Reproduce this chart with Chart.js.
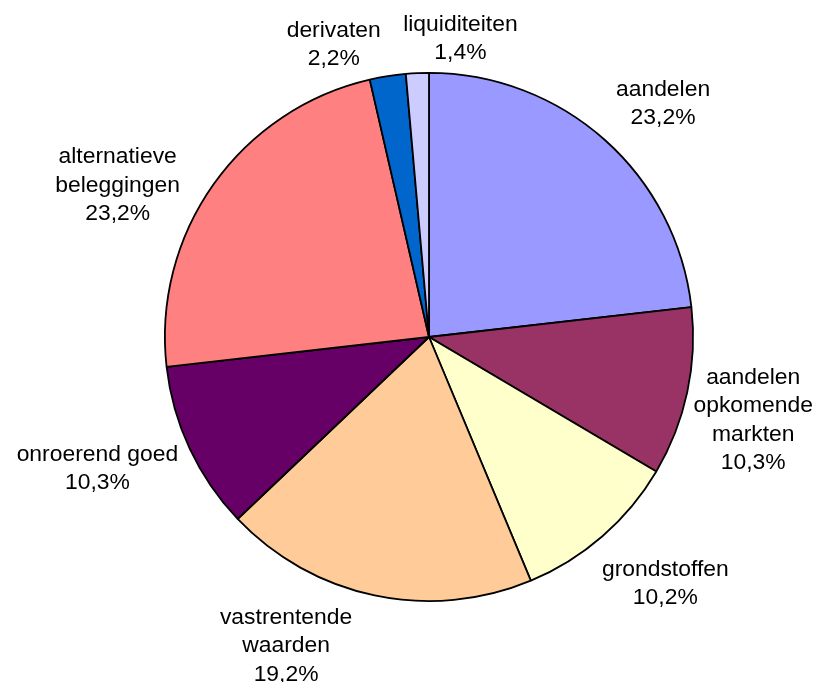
<!DOCTYPE html>
<html>
<head>
<meta charset="utf-8">
<script src="https://cdn.jsdelivr.net/npm/chart.js@4"></script>
<style>
  html, body { margin: 0; padding: 0; background: #ffffff; }
  #myChart { display: block; }
</style>
</head>
<body>
<canvas id="myChart" width="817" height="682"></canvas>
<script>
// categorieen en percentages (met de klok mee vanaf boven)
var categorieen = [
    ['aandelen'],
    ['aandelen', 'opkomende', 'markten'],
    ['grondstoffen'],
    ['vastrentende', 'waarden'],
    ['onroerend goed'],
    ['alternatieve', 'beleggingen'],
    ['derivaten'],
    ['liquiditeiten']
];
var percentages = [23.2, 10.3, 10.2, 19.2, 10.3, 23.2, 2.2, 1.4];
var kleuren = ['#9999FF', '#993366', '#FFFFCC', '#FFCC99', '#660066', '#FF8080', '#0066CC', '#CCCCFF'];

// verschuiving van de labels t.o.v. de standaard positie (px)
var labelVerschuiving = [
    [20, -6], [-2, 14], [15, 17], [-73, -3],
    [-11, 3], [-37, 33], [-45, 9], [46, 6]
];

var regelHoogte = 28.5;
var lettertype = '22px "Liberation Sans", Arial, sans-serif';

function formatPct(v) {
    return v.toFixed(1).replace('.', ',') + '%';
}

// labels buiten de taart tekenen
var buitenLabels = {
    id: 'buitenLabels',
    afterDatasetsDraw: function (chart) {
        var ctx = chart.ctx;
        var meta = chart.getDatasetMeta(0);
        ctx.save();
        ctx.font = lettertype;
        ctx.fillStyle = '#000000';
        ctx.textAlign = 'center';
        ctx.textBaseline = 'middle';
        meta.data.forEach(function (arc, i) {
            var p = arc.getProps(['x', 'y', 'startAngle', 'endAngle', 'outerRadius'], true);
            var mid = (p.startAngle + p.endAngle) / 2;
            var dx = Math.cos(mid), dy = Math.sin(mid);
            var regels = categorieen[i].concat([formatPct(percentages[i])]);
            var w = 0;
            regels.forEach(function (r) { w = Math.max(w, ctx.measureText(r).width); });
            var h = regels.length * regelHoogte;
            var afstand = p.outerRadius + 12;
            var cx = p.x + dx * afstand + dx * w / 2 + labelVerschuiving[i][0];
            var cy = p.y + dy * afstand + dy * h / 2 + labelVerschuiving[i][1];
            regels.forEach(function (r, k) {
                var ly = cy + (k - (regels.length - 1) / 2) * regelHoogte;
                ctx.save();
                ctx.translate(cx, ly);
                ctx.scale(1.04, 1);
                ctx.fillText(r, 0, 0);
                ctx.restore();
            });
        });
        ctx.restore();
    }
};

var ctx = document.getElementById('myChart').getContext('2d');
var chart = new Chart(ctx, {
    type: 'pie',
    data: {
        labels: categorieen.map(function (c) { return c.join(' '); }),
        datasets: [{
            data: percentages,
            backgroundColor: kleuren,
            borderColor: '#000000',
            borderWidth: 1.8
        }]
    },
    options: {
        responsive: false,
        devicePixelRatio: 1,
        animation: false,
        layout: { padding: { left: 164, right: 123, top: 72, bottom: 80 } },
        plugins: {
            legend: { display: false },
            tooltip: { enabled: false }
        }
    },
    plugins: [buitenLabels]
});
</script>
</body>
</html>
